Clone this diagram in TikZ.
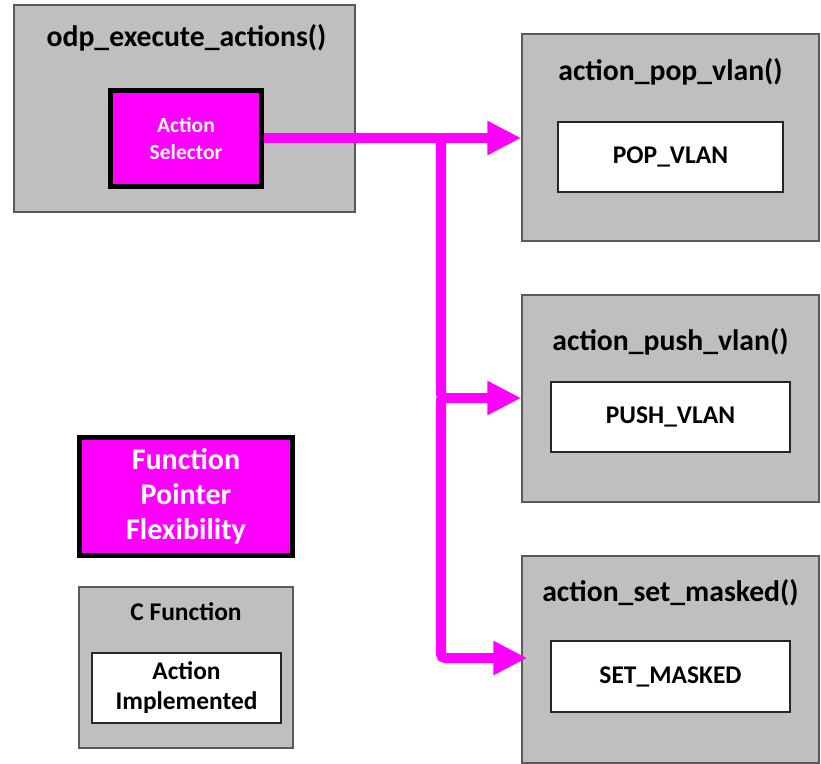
\documentclass[tikz,border=0pt]{standalone}
\usepackage{fontspec}
\setmainfont{Carlito}
\usetikzlibrary{arrows.meta}
\definecolor{boxgray}{HTML}{BFBFBF}
\definecolor{edgegray}{HTML}{5A5A5A}
\definecolor{hotpink}{HTML}{FF00FF}
\tikzset{
  funcbox/.style={draw=edgegray, line width=1.5pt, fill=boxgray, inner sep=0pt},
  implbox/.style={draw=black!85, line width=2pt, fill=white, inner sep=0pt,
                  font=\bfseries\fontsize{25.5}{30}\selectfont, align=center},
  hotbox/.style={draw=black, line width=5pt, fill=hotpink, inner sep=0pt,
                 text=white, align=center},
  title/.style={font=\bfseries\fontsize{29.7}{34}\selectfont, inner sep=0pt},
  flow/.style={draw=hotpink, line width=10pt, rounded corners=4pt,
               -{Triangle[length=34pt,width=32pt]}},
}
\begin{document}
\begin{tikzpicture}[x=1pt,y=-1pt]
\useasboundingbox (0,0) rectangle (821,763);

% caller and its selector
\node[funcbox, minimum width=341, minimum height=207] (odp) at (184.5,108.5) {};
\node[title] (odpT) at (186.5,38) {odp\_execute\_actions()};
\node[hotbox, minimum width=151, minimum height=96,
      font=\bfseries\fontsize{21.5}{27}\selectfont] (sel) at (186,138.5) {Action\\Selector};

% action handlers
\node[funcbox, minimum width=297, minimum height=207] (pop) at (670.5,137.5) {};
\node[title] (popT) at (670.5,72) {action\_pop\_vlan()};
\node[implbox, minimum width=225, minimum height=70] (popI) at (670.5,157) {POP\_VLAN};

\node[funcbox, minimum width=297, minimum height=207] (push) at (670.5,398.5) {};
\node[title] (pushT) at (670.5,342) {action\_push\_vlan()};
\node[implbox, minimum width=239, minimum height=70] (pushI) at (670.5,417) {PUSH\_VLAN};

\node[funcbox, minimum width=297, minimum height=207] (set) at (670.5,659.5) {};
\node[title] (setT) at (670.5,593) {action\_set\_masked()};
\node[implbox, minimum width=239, minimum height=71] (setI) at (670.5,676.5) {SET\_MASKED};

% legend
\node[hotbox, minimum width=213, minimum height=118,
      font=\bfseries\fontsize{30}{35}\selectfont] (fpf) at (186,496.5) {Function\\Pointer\\Flexibility};
\node[funcbox, minimum width=214, minimum height=161] (cfun) at (186,667.5) {};
\node[title, font=\bfseries\fontsize{25.5}{30}\selectfont] (cfunT) at (186,612) {C Function};
\node[implbox, minimum width=189, minimum height=70,
      font=\bfseries\fontsize{25.4}{30}\selectfont] (cfunI) at (186.5,688) {Action\\Implemented};

% dispatch connectors
\coordinate (j1) at (441,138);
\coordinate (j2) at (441,398);
\draw[flow] (sel.east |- j1) -- (pop.west |- j1);
\draw[flow] (j1) -- (j2) -- (pop.west |- j2);
\draw[flow] (j2) |- ([xshift=6pt]set.west |- 0,658);
\end{tikzpicture}
\end{document}
